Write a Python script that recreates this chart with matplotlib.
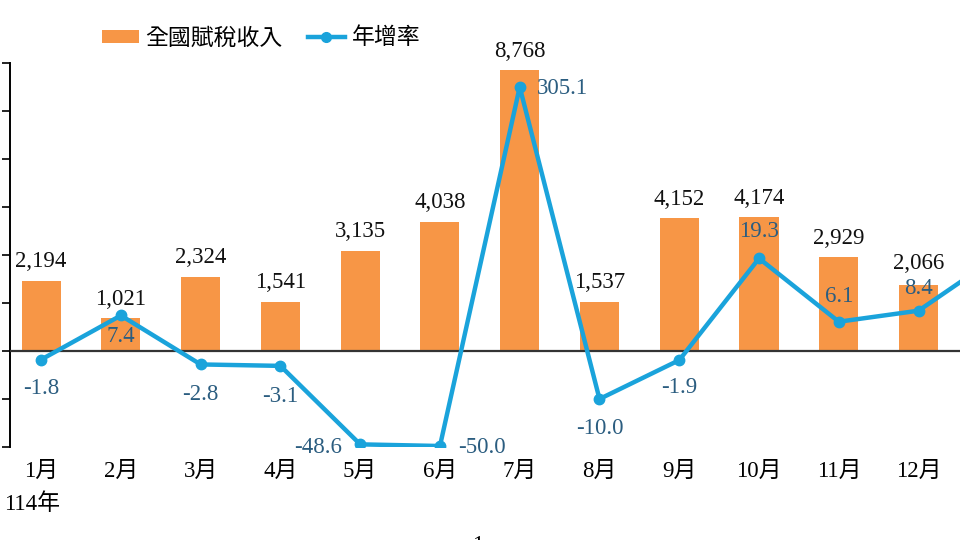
import numpy as np
import matplotlib
matplotlib.use("Agg")
import matplotlib.pyplot as plt
from matplotlib.patches import Patch
from matplotlib.lines import Line2D

# monthly national tax revenue (億元) and year-over-year growth (%)
months = ['1月', '2月', '3月', '4月', '5月', '6月', '7月', '8月', '9月', '10月', '11月', '12月']
revenue = [2194, 1021, 2324, 1541, 3135, 4038, 8768, 1537, 4152, 4174, 2929, 2066]
growth = [-1.8, 7.4, -2.8, -3.1, -48.6, -50.0, 305.1, -10.0, -1.9, 19.3, 6.1, 8.4]
next_growth = 19.8  # following month, only the line segment is visible (cut off at right)
year_label = '114年'
legend_labels = ['全國賦稅收入', '年增率']

bar_color = '#F79646'
line_color = '#1AA3DB'
rate_text_color = '#2B5D80'
num_font = ['Liberation Serif', 'Noto Sans CJK TC']
cjk_font = ['Noto Sans CJK TC', 'Liberation Serif']
fs = 16.5

fig = plt.figure(figsize=(9.6, 5.4), dpi=100)
# the chart is cropped: the axes runs past the right edge of the picture
ax = fig.add_axes([10 / 960, 93 / 540, 1037 / 960, 384 / 540])

x = np.arange(1, len(months) + 1)
ax.bar(x, revenue, width=0.49, color=bar_color, zorder=2)
ax.set_ylim(-3000, 9000)
ax.set_yticks(np.arange(-3000, 9001, 1500))
ax.set_xlim(0.61, 13.61)
ax.set_xticks(x)
ax.set_xticklabels(months, family=num_font, fontsize=fs)
ax.tick_params(axis='x', length=0, pad=10)
ax.tick_params(axis='y', direction='out', length=6, width=1.2, labelleft=False)
for s in ['top', 'right', 'bottom']:
    ax.spines[s].set_visible(False)
ax.spines['left'].set_linewidth(1.4)
ax.axhline(0, color='#333333', lw=1.6, zorder=3)

bar_lift = [6] * 11 + [8]
for xi, v, lift in zip(x, revenue, bar_lift):
    ax.annotate(f'{v:,}', (xi, v), xytext=(0, lift), textcoords='offset points',
                ha='center', va='bottom', fontsize=fs, family=num_font, color='#111111')

# growth axis: compressed beyond -10..20 like the original broken scale
knot_vals = [-300, -50, -10, 20, 305.1, 600]
knot_pix = [-389, -95, -48, 96, 264, 438]


def fwd(v):
    return np.interp(v, knot_vals, knot_pix)


def inv(p):
    return np.interp(p, knot_pix, knot_vals)


ax2 = ax.twinx()
ax2.set_yscale('function', functions=(fwd, inv))
ax2.set_ylim(inv(-96), inv(288))
ax2.axis('off')

xl = np.arange(1, len(growth) + 2)
ax2.plot(xl, growth + [next_growth], color=line_color, lw=3.2, marker='o', ms=7.5,
         solid_joinstyle='round', zorder=4)

# label offsets in points (dx, dy, ha)
offs = [(0, -21, 'center'), (0, -15, 'center'), (0, -22, 'center'), (0, -22, 'center'),
        (-13, -2, 'right'), (13, -1, 'left'), (12, -1, 'left'), (0, -21, 'center'),
        (0, -20, 'center'), (0, 19, 'center'), (0, 18, 'center'), (0, 16, 'center')]
for xi, g, (dx, dy, ha) in zip(x, growth, offs):
    ax2.annotate(f'{g:.1f}', (xi, g), xytext=(dx, dy), textcoords='offset points',
                 ha=ha, va='center', fontsize=fs, family=num_font, color=rate_text_color)

fig.text(4 / 960, 1 - 504 / 540, year_label, family=num_font, fontsize=fs,
         ha='left', va='center')
fig.text(478 / 960, -0.01, '1', family=num_font, fontsize=fs, ha='center', va='center')

handles = [Patch(facecolor=bar_color, edgecolor='none'),
           Line2D([], [], color=line_color, lw=3.2, marker='o', ms=7)]
fig.legend(handles, legend_labels, loc='center', bbox_to_anchor=(261 / 960, 1 - 38 / 540),
           ncol=2, frameon=False, handlelength=1.6, handleheight=0.5, handletextpad=0.3,
           columnspacing=1.1, prop={'family': cjk_font, 'size': fs})

fig.savefig('out.png', dpi=100)
